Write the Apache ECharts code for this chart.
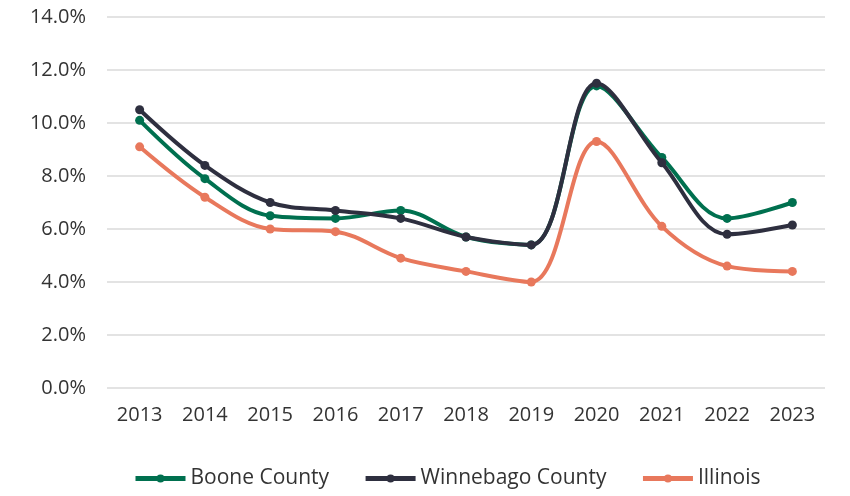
<!DOCTYPE html>
<html>
<head>
<meta charset="utf-8">
<script src="https://cdn.jsdelivr.net/npm/echarts@6/dist/echarts.min.js"></script>
<style>
  html, body { margin: 0; padding: 0; background: #fff; }
  #chart { width: 850px; height: 496px; }
</style>
</head>
<body>
<div id="chart"></div>
<script>
// 数据
const years = ['2013', '2014', '2015', '2016', '2017', '2018', '2019', '2020', '2021', '2022', '2023'];
const boone = [10.1, 7.9, 6.5, 6.4, 6.7, 5.7, 5.4, 11.4, 8.7, 6.4, 7.0];
const winnebago = [10.5, 8.4, 7.0, 6.7, 6.4, 5.7, 5.4, 11.5, 8.5, 5.8, 6.15];
const illinois = [9.1, 7.2, 6.0, 5.9, 4.9, 4.4, 4.0, 9.3, 6.1, 4.6, 4.4];

const font = 'Open Sans';

function line(name, data, color, z) {
  return {
    name,
    type: 'line',
    data,
    smooth: 0.35,
    symbol: 'circle',
    symbolSize: 9,
    lineStyle: { color, width: 4 },
    itemStyle: { color },
    z
  };
}

const chart = echarts.init(document.getElementById('chart'));
chart.setOption({
  backgroundColor: '#fff',
  animation: false,
  legend: {
    bottom: 2,
    left: 128,
    itemWidth: 50,
    itemHeight: 10,
    itemGap: 34,
    lineStyle: { width: 5 },
    textStyle: { color: '#333', fontSize: 21, fontFamily: font },
    data: ['Boone County', 'Winnebago County', 'Illinois']
  },
  grid: { left: 107, right: 25, top: 17, bottom: 108 },
  xAxis: {
    type: 'category',
    data: years,
    axisLine: { show: false },
    axisTick: { show: false },
    axisLabel: { color: '#333', fontSize: 20, fontFamily: font, margin: 17 }
  },
  yAxis: {
    type: 'value',
    min: 0,
    max: 14,
    interval: 2,
    axisLine: { show: false },
    axisTick: { show: false },
    splitLine: { lineStyle: { color: '#e3e3e3', width: 2 } },
    axisLabel: {
      color: '#333',
      fontSize: 20,
      fontFamily: font,
      margin: 21,
      formatter: v => v.toFixed(1) + '%'
    }
  },
  series: [
    line('Boone County', boone, '#00704f', 2),
    line('Winnebago County', winnebago, '#2e2f3f', 3),
    line('Illinois', illinois, '#e8785c', 1)
  ]
});
</script>
</body>
</html>
